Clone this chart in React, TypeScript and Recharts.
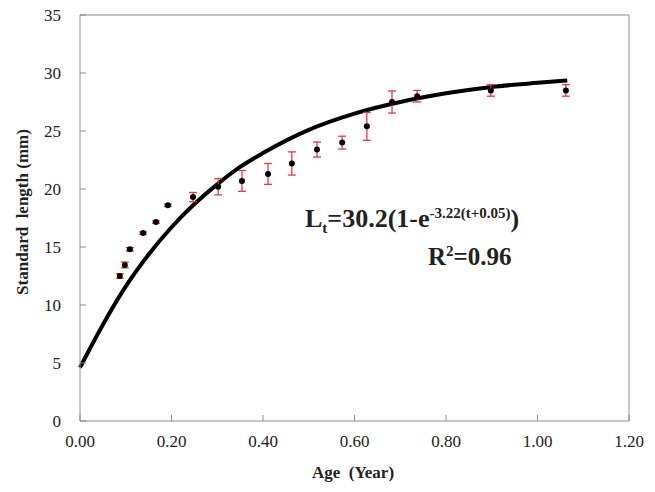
import React from 'react';
import {
  ComposedChart,
  Scatter,
  Line,
  XAxis,
  YAxis,
  ErrorBar,
  ReferenceLine,
} from 'recharts';

// observed mean standard length by age, with error (mm)
const ages = [0.087, 0.098, 0.109, 0.138, 0.166, 0.192, 0.247, 0.302, 0.354, 0.411, 0.463, 0.518, 0.573, 0.627, 0.682, 0.737, 0.898, 1.062];
const lengths = [12.5, 13.45, 14.8, 16.2, 17.15, 18.6, 19.3, 20.2, 20.7, 21.3, 22.2, 23.4, 24.0, 25.4, 27.5, 28.0, 28.5, 28.5];
const errors = [0.2, 0.25, 0.15, 0.1, 0.1, 0.1, 0.4, 0.7, 0.9, 0.9, 1.0, 0.65, 0.55, 1.2, 0.95, 0.5, 0.5, 0.5];

// fitted growth curve
const curveAges = [0, 0.05, 0.1, 0.15, 0.2, 0.25, 0.3, 0.35, 0.4, 0.5, 0.6, 0.7, 0.8, 0.9, 1.0, 1.065];
const curveLengths = [4.6, 8.3, 11.6, 14.35, 16.7, 18.7, 20.4, 21.9, 23.1, 25.1, 26.5, 27.5, 28.25, 28.8, 29.15, 29.35];

const xTicks = [0, 0.2, 0.4, 0.6, 0.8, 1.0, 1.2];
const yTicks = [0, 5, 10, 15, 20, 25, 30, 35];

const FONT = 'Liberation Serif';
const AXIS_COLOR = '#8c8c8c';

const points = ages.map((a, i) => ({ age: a, len: lengths[i], err: errors[i] }));
const curve = curveAges.map((a, i) => ({ age: a, fit: curveLengths[i] }));

const YTick = ({ x, y, payload }: any) => (
  <g>
    <line x1={x} x2={x + 6} y1={y} y2={y} stroke={AXIS_COLOR} strokeWidth={1} />
    <text x={x - 19} y={y} dy={6} textAnchor="end" style={{ fontFamily: FONT }} fontSize={17} fill="#222">
      {payload.value}
    </text>
  </g>
);

const XTick = ({ x, y, payload }: any) => (
  <g>
    <line x1={x} x2={x} y1={y} y2={y - 6} stroke={AXIS_COLOR} strokeWidth={1} />
    <text x={x} y={y + 26} textAnchor="middle" style={{ fontFamily: FONT }} fontSize={17} fill="#222">
      {Number(payload.value).toFixed(2)}
    </text>
  </g>
);

const Dot = (props: any) => <circle cx={props.cx} cy={props.cy} r={3} fill="#000" />;

export default function App() {
  return (
    <div style={{ position: 'absolute', left: 0, top: 0, width: 655, height: 492, background: '#fff', fontFamily: FONT }}>
      <ComposedChart width={655} height={492} margin={{ top: 15, right: 26, left: 0, bottom: 0 }}>
        <XAxis
          dataKey="age"
          type="number"
          domain={[0, 1.2]}
          ticks={xTicks}
          height={71}
          tickSize={0}
          tickMargin={0}
          tickLine={false}
          axisLine={{ stroke: AXIS_COLOR }}
          tick={<XTick />}
          allowDuplicatedCategory={false}
        />
        <YAxis
          type="number"
          domain={[0, 35]}
          ticks={yTicks}
          width={80}
          tickSize={0}
          tickMargin={0}
          tickLine={false}
          axisLine={{ stroke: AXIS_COLOR }}
          tick={<YTick />}
        />
        <ReferenceLine y={35} stroke={AXIS_COLOR} />
        <ReferenceLine x={1.2} stroke={AXIS_COLOR} />
        <Line
          data={curve}
          dataKey="fit"
          type="monotone"
          stroke="#000"
          strokeWidth={4}
          dot={false}
          activeDot={false}
          isAnimationActive={false}
        />
        <Scatter data={points} dataKey="len" shape={<Dot />} isAnimationActive={false}>
          <ErrorBar dataKey="err" direction="y" width={4} stroke="#e23a42" strokeWidth={1.3} />
        </Scatter>
      </ComposedChart>

      <div
        style={{
          position: 'absolute',
          left: 23,
          top: 212,
          transform: 'translate(-50%, -50%) rotate(-90deg)',
          whiteSpace: 'nowrap',
          fontWeight: 'bold',
          fontSize: 17,
          color: '#222',
        }}
      >
        Standard&nbsp; length (mm)
      </div>
      <div
        style={{
          position: 'absolute',
          left: 353,
          top: 473,
          transform: 'translate(-50%, -50%)',
          whiteSpace: 'nowrap',
          fontWeight: 'bold',
          fontSize: 17,
          color: '#222',
        }}
      >
        Age&nbsp; (Year)
      </div>

      <div
        style={{
          position: 'absolute',
          left: 305,
          top: 204,
          whiteSpace: 'nowrap',
          fontWeight: 'bold',
          fontSize: 26,
          lineHeight: '30px',
          color: '#222',
        }}
      >
        L<span style={{ fontSize: 15, position: 'relative', top: 6 }}>t</span>=30.2(1-e
        <span style={{ fontSize: 15, position: 'relative', top: -9 }}>-3.22(t+0.05)</span>)
      </div>
      <div
        style={{
          position: 'absolute',
          left: 428,
          top: 242,
          whiteSpace: 'nowrap',
          fontWeight: 'bold',
          fontSize: 25,
          lineHeight: '30px',
          color: '#222',
        }}
      >
        R<span style={{ fontSize: 15, position: 'relative', top: -9 }}>2</span>=0.96
      </div>
    </div>
  );
}
